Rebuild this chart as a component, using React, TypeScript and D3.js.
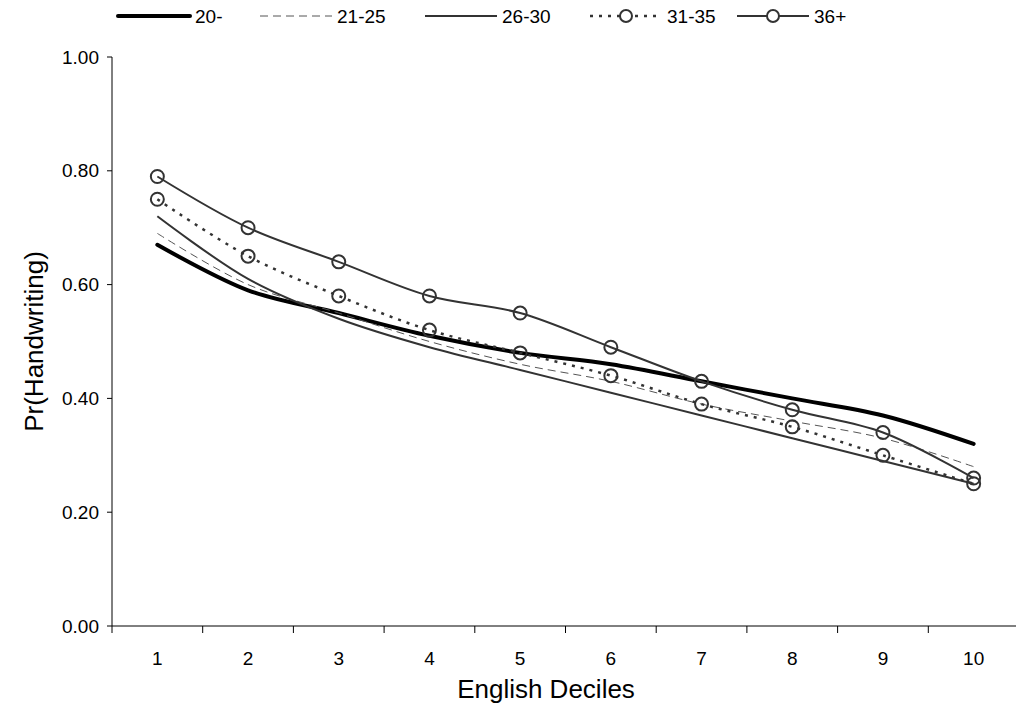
import React from "react";
import * as d3 from "d3";

const deciles = ["1", "2", "3", "4", "5", "6", "7", "8", "9", "10"];
const yTicks = [0, 0.2, 0.4, 0.6, 0.8, 1.0];

const s20 = [0.67, 0.59, 0.55, 0.51, 0.48, 0.46, 0.43, 0.40, 0.37, 0.32];
const s21_25 = [0.69, 0.60, 0.55, 0.50, 0.46, 0.43, 0.39, 0.36, 0.33, 0.28];
const s26_30 = [0.72, 0.61, 0.54, 0.49, 0.45, 0.41, 0.37, 0.33, 0.29, 0.25];
const s31_35 = [0.75, 0.65, 0.58, 0.52, 0.48, 0.44, 0.39, 0.35, 0.30, 0.25];
const s36 = [0.79, 0.70, 0.64, 0.58, 0.55, 0.49, 0.43, 0.38, 0.34, 0.26];

const seriesNames = ["20-", "21-25", "26-30", "31-35", "36+"];

type Style = { stroke: string; width: number; dash?: string; marker: boolean };
const styles: Style[] = [
  { stroke: "#000", width: 4, marker: false },
  { stroke: "#555", width: 1, dash: "8,5", marker: false },
  { stroke: "#333", width: 2, marker: false },
  { stroke: "#333", width: 2.5, dash: "3,6", marker: true },
  { stroke: "#333", width: 2, marker: true },
];

const FONT = "Arial, 'Liberation Sans', Helvetica, sans-serif";

export default function App() {
  const W = 1016, H = 704;
  const left = 112, right = 1019, top = 57, bottom = 626;
  const x = d3.scaleBand<string>().domain(deciles).range([left, right]).padding(0);
  const y = d3.scaleLinear().domain([0, 1]).range([bottom, top]);
  const cx = (d: string) => (x(d) as number) + x.bandwidth() / 2;
  const data = [s20, s21_25, s26_30, s31_35, s36];
  const line = d3
    .line<number>()
    .x((_, i) => cx(deciles[i]))
    .y((v) => y(v))
    .curve(d3.curveCatmullRom.alpha(0.5));

  const legendX = [118, 260, 425, 590, 737];
  const legendLen = 72;
  const legendY = 16;

  return (
    <svg width={W} height={H} style={{ position: "absolute", left: 0, top: 0, background: "#fff" }}>
      {/* y axis */}
      <line x1={left} x2={left} y1={top} y2={bottom} stroke="#000" strokeWidth={1} />
      {yTicks.map((t) => (
        <g key={t}>
          <line x1={left - 5} x2={left} y1={y(t)} y2={y(t)} stroke="#000" />
          <text x={left - 13} y={y(t)} textAnchor="end" dominantBaseline="central" fontFamily={FONT} fontSize={19} fill="#000">
            {t.toFixed(2)}
          </text>
        </g>
      ))}
      {/* x axis */}
      <line x1={left} x2={right} y1={bottom} y2={bottom} stroke="#000" />
      {deciles.map((d) => (
        <g key={d}>
          <line x1={x(d) as number} x2={x(d) as number} y1={bottom} y2={bottom + 7} stroke="#000" />
          <text x={cx(d)} y={658} textAnchor="middle" dominantBaseline="central" fontFamily={FONT} fontSize={19} fill="#000">
            {d}
          </text>
        </g>
      ))}
      <text x={546} y={689} textAnchor="middle" dominantBaseline="central" fontFamily={FONT} fontSize={26} fill="#000">
        English Deciles
      </text>
      <text
        transform={`translate(34,${(top + bottom) / 2}) rotate(-90)`}
        textAnchor="middle"
        dominantBaseline="central"
        fontFamily={FONT}
        fontSize={26}
        fill="#000"
      >
        Pr(Handwriting)
      </text>

      {/* series */}
      {data.map((vals, si) => {
        const st = styles[si];
        return (
          <g key={si}>
            <path
              d={line(vals) || ""}
              fill="none"
              stroke={st.stroke}
              strokeWidth={st.width}
              strokeDasharray={st.dash}
              strokeLinecap={si === 0 ? "round" : "butt"}
            />
            {st.marker &&
              vals.map((v, i) => (
                <circle key={i} cx={cx(deciles[i])} cy={y(v)} r={6.5} fill="none" stroke="#333" strokeWidth={2} />
              ))}
          </g>
        );
      })}

      {/* legend */}
      {seriesNames.map((n, si) => {
        const st = styles[si];
        const x0 = legendX[si];
        return (
          <g key={n}>
            <line
              x1={x0}
              x2={x0 + legendLen}
              y1={legendY}
              y2={legendY}
              stroke={st.stroke}
              strokeWidth={st.width}
              strokeDasharray={st.dash}
              strokeLinecap={si === 0 ? "round" : "butt"}
            />
            {st.marker && <circle cx={x0 + legendLen / 2} cy={legendY} r={6} fill="#fff" stroke="#333" strokeWidth={2} />}
            <text x={x0 + legendLen + 5} y={legendY} dominantBaseline="central" fontFamily={FONT} fontSize={19} fill="#000">
              {n}
            </text>
          </g>
        );
      })}
    </svg>
  );
}
